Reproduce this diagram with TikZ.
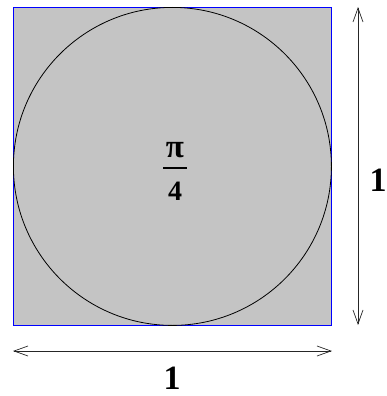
\documentclass[tikz,border=0pt]{standalone}
\usepackage{fontspec}
\setmainfont{Liberation Serif}
\usetikzlibrary{arrows.meta, positioning, calc}

\begin{document}
\begin{tikzpicture}[
    x=1pt, y=-1pt,
    dim/.style={draw=black!85, line width=0.7pt, {Straight Barb[length=14pt,width=10pt]}-{Straight Barb[length=14pt,width=10pt]}},
    lab/.style={font=\bfseries\fontsize{34}{34}\selectfont, inner sep=0pt},
    frac/.style={font=\bfseries\fontsize{28}{28}\selectfont, inner sep=0pt},
    >=Stealth]
  \useasboundingbox (0,0) rectangle (386,396);
  \node[draw=blue, fill=black!23, line width=0.8pt, minimum size=318pt, inner sep=0pt, anchor=north west] (sq) at (13,7) {};
  \node[draw, circle, line width=0.8pt, minimum size=318pt, inner sep=0pt] (disc) at (sq.center) {};
  % pi over 4
  \node[frac, font=\bfseries\fontsize{33}{33}\selectfont] (num) at (175,150) {π};
  \node[inner sep=0pt] (bar) at (175,168) {\rule{24pt}{1.6pt}};
  \node[frac] (den) at (175,191) {4};
  % dimension arrows
  \coordinate (hL) at (13,351);
  \coordinate (hR) at (332,351);
  \coordinate (vT) at (358,7);
  \coordinate (vB) at (358,325);
  \draw[dim] (hL) -- (hR);
  \draw[dim] (vT) -- (vB);
  \node[lab] (wd) at (172,378) {1};
  \node[lab] (ht) at (378,180) {1};
\end{tikzpicture}
\end{document}
